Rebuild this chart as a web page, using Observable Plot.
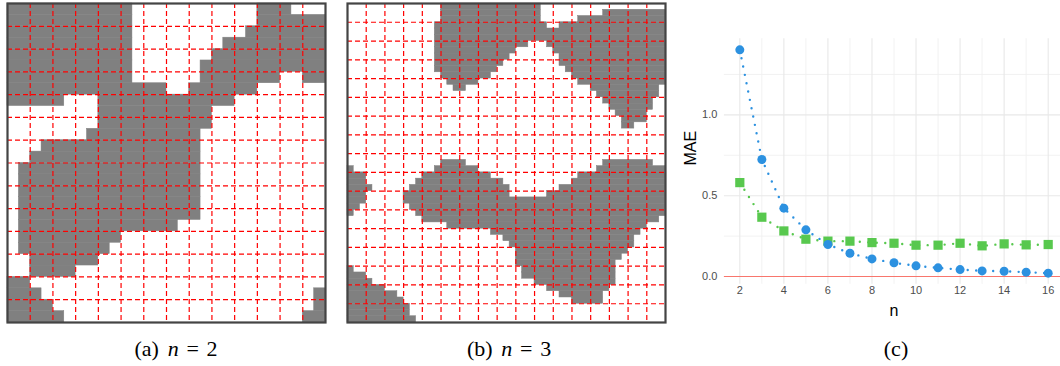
<!DOCTYPE html>
<html><head><meta charset="utf-8">
<script src="https://cdn.jsdelivr.net/npm/d3@7"></script>
<script src="https://cdn.jsdelivr.net/npm/@observablehq/plot@0.6"></script>
<style>
html,body{margin:0;padding:0;background:#fff;overflow:hidden;width:1060px;height:366px;}
#fig{position:relative;width:1060px;height:366px;overflow:hidden;}
.cap{position:absolute;top:337px;transform:translateX(-50%);white-space:nowrap;
  font-family:"Liberation Serif","Times New Roman",serif;font-size:22px;line-height:24px;color:#000;}
.cap .g1{margin-left:0.4em;}
.cap .g2{margin:0 0.35em;}
</style></head><body><div id="fig"></div>
<script>
// ---- panel (a): 28x28 pixel map, n = 2 (gray runs per row: [firstCol, lastCol]) ----
const sizeA = 28, nA = 2;
const runsA = [
 [[0,10],[22,24]],
 [[0,10],[22,27]],
 [[0,10],[21,27]],
 [[0,10],[19,27]],
 [[0,10],[18,27]],
 [[0,10],[17,27]],
 [[0,10],[17,23],[26,27]],
 [[0,13],[16,21]],
 [[0,4],[8,19]],
 [[8,17]],
 [[8,17]],
 [[7,16]],
 [[3,16]],
 [[2,16]],
 [[1,16]],
 [[1,16]],
 [[1,16]],
 [[1,16]],
 [[1,16]],
 [[1,14]],
 [[1,9]],
 [[1,8]],
 [[2,7]],
 [[2,5]],
 [[0,1]],
 [[0,2],[27,27]],
 [[0,3],[27,27]],
 [[0,4],[26,27]]
];
// ---- panel (b): 51x51 pixel map, n = 3 ----
const sizeB = 51, nB = 3;
const runsB = [
 [[15,30]],
 [[15,30],[41,50]],
 [[15,30],[37,50]],
 [[14,31],[34,50]],
 [[14,50]],
 [[14,50]],
 [[14,28],[32,50]],
 [[14,26],[33,50]],
 [[14,25],[34,50]],
 [[14,24],[34,50]],
 [[14,23],[35,50]],
 [[15,22],[36,50]],
 [[16,20],[37,50]],
 [[17,18],[39,49]],
 [[40,49]],
 [[41,48]],
 [[42,48]],
 [[43,47]],
 [[44,47]],
 [[44,45]],
 [], [], [], [], [],
 [[15,18],[41,48]],
 [[0,0],[14,20],[40,50]],
 [[0,2],[12,22],[37,50]],
 [[0,2],[11,24],[36,50]],
 [[0,3],[10,25],[34,50]],
 [[0,2],[9,25],[32,50]],
 [[0,2],[9,50]],
 [[0,1],[10,50]],
 [[0,0],[11,50]],
 [[12,49]],
 [[16,47]],
 [[23,46]],
 [[25,45]],
 [[26,45]],
 [[27,44]],
 [[27,43]],
 [[27,42]],
 [[0,0],[28,42]],
 [[0,2],[28,42]],
 [[0,3],[30,42]],
 [[0,5],[32,41]],
 [[0,7],[34,40]],
 [[0,8],[36,40]],
 [[0,9]],
 [[0,9]],
 [[0,10]]
];
// ---- panel (c): MAE vs n ----
const nValues  = [2,3,4,5,6,7,8,9,10,11,12,13,14,15,16];
const maeBlue  = [1.402,0.724,0.423,0.289,0.198,0.144,0.109,0.085,0.066,0.054,0.043,0.035,0.033,0.027,0.021];
const maeGreen = [0.581,0.367,0.282,0.231,0.219,0.219,0.210,0.206,0.194,0.194,0.206,0.190,0.202,0.196,0.198];
const xTicks = [2,4,6,8,10,12,14,16];
const xMinor = [3,5,7,9,11,13,15];
const yTicks = [0,0.5,1.0];
const yMinor = [0.25,0.75,1.25];
const captionTags = ["(a)","(b)","(c)"];
const captionN = ["2","3",null];

const SANS = "Liberation Sans, Arimo, Arial, Helvetica, sans-serif";

const fig = document.getElementById("fig");
function place(el, left, top){
  el.style.position = "absolute";
  el.style.left = left + "px";
  el.style.top = top + "px";
  fig.appendChild(el);
}

function pixelPanel(runs, size, n, x0, y0, w, h){
  const cells = runs.flatMap((row, r) => row.map(([a,b]) => ({r, a, b})));
  const lines = d3.range(n, size, n);
  const m = 4;
  const p = Plot.plot({
    width: w + 2*m, height: h + 2*m,
    marginLeft: m, marginRight: m, marginTop: m, marginBottom: m,
    x: {domain: [0, size], axis: null},
    y: {domain: [0, size], axis: null, reverse: true},
    style: {background: "transparent", overflow: "visible"},
    marks: [
      Plot.rect(cells, {x1: "a", x2: d => d.b + 1, y1: "r", y2: d => d.r + 1,
        fill: "#808080", stroke: "#808080", strokeWidth: 0.5}),
      Plot.ruleX(lines, {stroke: "#ff0000", strokeWidth: 1.2, strokeDasharray: "5,3"}),
      Plot.ruleY(lines, {stroke: "#ff0000", strokeWidth: 1.2, strokeDasharray: "5,3"}),
      Plot.frame({stroke: "#444444", strokeWidth: 2.2})
    ]
  });
  place(p, x0 - m, y0 - m);
}
pixelPanel(runsA, sizeA, nA, 7, 3, 318, 319);
pixelPanel(runsB, sizeB, nB, 347, 3, 318, 319);

// chart (c)
const blue = "#2c91e0", green = "#58c84e";
const blueData = nValues.map((n, i) => ({n, v: maeBlue[i]}));
const greenData = nValues.map((n, i) => ({n, v: maeGreen[i]}));
const W = 390, H = 340, ml = 43.9, mr = 6.9, mt = 38.2, mb = 56.2;
const chart = Plot.plot({
  width: W, height: H, marginLeft: ml, marginRight: mr, marginTop: mt, marginBottom: mb,
  style: {fontFamily: SANS, fontSize: "11px", color: "#4d4d4d",
          background: "transparent", overflow: "visible"},
  x: {domain: [1.3, 16.7], ticks: xTicks, tickSize: 0, tickPadding: 2, label: null},
  y: {domain: [-0.048, 1.471], ticks: yTicks, tickSize: 0, tickPadding: 7,
      tickFormat: d3.format(".1f"), label: null},
  marks: [
    Plot.ruleX(xMinor, {stroke: "#f0f0f0", strokeWidth: 0.9}),
    Plot.ruleY(yMinor, {stroke: "#f0f0f0", strokeWidth: 0.9}),
    Plot.ruleX(xTicks, {stroke: "#e8e8e8", strokeWidth: 1.1}),
    Plot.ruleY(yTicks, {stroke: "#e8e8e8", strokeWidth: 1.1}),
    Plot.ruleY([0], {stroke: "#f8766d", strokeWidth: 1.1}),
    Plot.line(greenData, {x: "n", y: "v", stroke: green, strokeWidth: 2.4,
      strokeDasharray: "0,8.5", strokeLinecap: "round"}),
    Plot.line(blueData, {x: "n", y: "v", stroke: blue, strokeWidth: 2.4,
      strokeDasharray: "0,8.5", strokeLinecap: "round"}),
    Plot.dot(greenData, {x: "n", y: "v", symbol: "square", r: 5.2, fill: green}),
    Plot.dot(blueData, {x: "n", y: "v", r: 4.5, fill: blue}),
    Plot.text(["MAE"], {text: d => d, frameAnchor: "left", dx: -(ml - 10), dy: 4, rotate: -90,
      fill: "black", fontSize: 16}),
    Plot.text(["n"], {text: d => d, frameAnchor: "bottom", dy: 32, fill: "black", fontSize: 16})
  ]
});
place(chart, 680, 0);

// captions (HTML, serif)
const capX = [176, 509, 896];
captionTags.forEach((tag, i) => {
  const d = document.createElement("div");
  d.className = "cap";
  d.style.left = capX[i] + "px";
  let html = tag;
  if (captionN[i] !== null)
    html += '<i class="g1">n</i><span class="g2">=</span>' + captionN[i];
  d.innerHTML = html;
  fig.appendChild(d);
});
</script>
</body></html>
